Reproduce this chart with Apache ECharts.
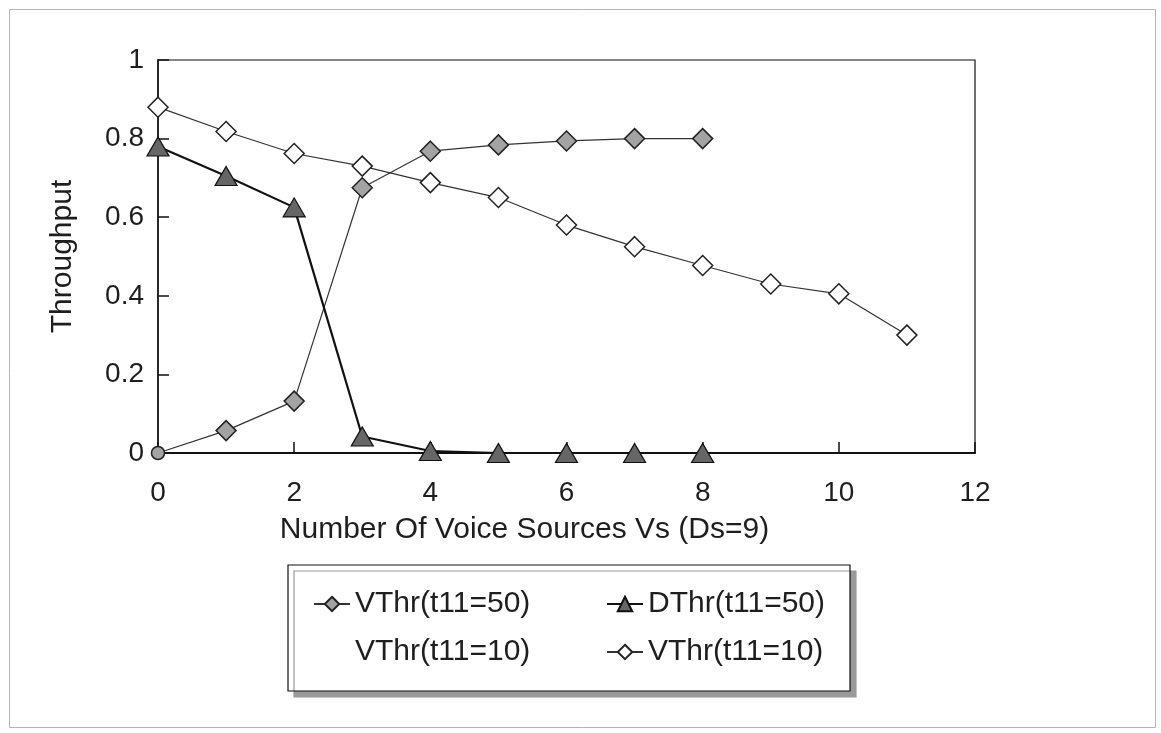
<!DOCTYPE html>
<html>
<head>
<meta charset="utf-8">
<script src="https://cdn.jsdelivr.net/npm/echarts@6/dist/echarts.min.js"></script>
<style>
html,body{margin:0;padding:0;background:#fff;}
#chart{width:1161px;height:733px;}
</style>
</head>
<body>
<div id="chart"></div>
<script>
// ---- data ----
const xVoice = [0,1,2,3,4,5,6,7,8,9,10,11];
const vthr50 = [0, 0.057, 0.132, 0.675, 0.768, 0.784, 0.794, 0.80, 0.80];
const dthr50 = [0.78, 0.705, 0.625, 0.042, 0.005, 0, 0, 0, 0];
const vthr10 = [0.88, 0.818, 0.762, 0.73, 0.688, 0.65, 0.58, 0.525, 0.477, 0.43, 0.405, 0.30];
const yTicks = [0, 0.2, 0.4, 0.6, 0.8, 1];
const xTicks = [0, 2, 4, 6, 8, 10, 12];
const names = ['VThr(t11=50)', 'DThr(t11=50)', 'VThr(t11=10) ', 'VThr(t11=10)'];
const xTitle = 'Number Of Voice Sources Vs (Ds=9)';
const yTitle = 'Throughput';

const FONT = 'Liberation Sans';
const TXT = '#1e1e1e';
const pair = arr => arr.map((v, i) => [xVoice[i], v]);

const chart = echarts.init(document.getElementById('chart'));
chart.setOption({
  animation: false,
  backgroundColor: '#fff',
  graphic: [{
    type: 'rect', left: 7, top: 7,
    shape: {width: 1146, height: 718},
    style: {fill: 'none', stroke: '#b5b5b5', lineWidth: 1}
  }],
  grid: {left: 158, right: 186, top: 60, bottom: 280, show: true,
         borderColor: '#111', borderWidth: 1.2, backgroundColor: 'transparent'},
  xAxis: {
    type: 'value', min: xTicks[0], max: xTicks[xTicks.length - 1], interval: 2,
    name: xTitle, nameLocation: 'middle', nameGap: 62,
    nameTextStyle: {fontFamily: FONT, fontSize: 30, color: TXT, padding: [0, 84, 0, 0]},
    axisLine: {show: true, onZero: false, lineStyle: {color: '#111', width: 2}},
    axisTick: {show: true, inside: true, length: 11, lineStyle: {color: '#111', width: 1.5}},
    axisLabel: {fontFamily: FONT, fontSize: 28, color: TXT, margin: 26},
    splitLine: {show: false}
  },
  yAxis: {
    type: 'value', min: yTicks[0], max: yTicks[yTicks.length - 1], interval: 0.2,
    name: yTitle, nameLocation: 'middle', nameGap: 80,
    nameTextStyle: {fontFamily: FONT, fontSize: 30, color: TXT},
    axisLine: {show: true, lineStyle: {color: '#111', width: 1.5}},
    axisTick: {show: true, inside: true, length: 11, lineStyle: {color: '#111', width: 1.5}},
    axisLabel: {fontFamily: FONT, fontSize: 28, color: TXT, margin: 14},
    splitLine: {show: false}
  },
  legend: {
    left: 288, top: 565, width: 530,
    orient: 'horizontal',
    padding: [20, 17, 20, 25],
    itemGap: 10, itemWidth: 36, itemHeight: 18,
    selectedMode: false,
    borderColor: '#111', borderWidth: 1.2,
    backgroundColor: '#fff',
    shadowColor: '#9a9a9a', shadowOffsetX: 6, shadowOffsetY: 6, shadowBlur: 0,
    textStyle: {fontFamily: FONT, fontSize: 30, color: TXT, lineHeight: 38},
    data: names.map((n, i) => ({name: n, textStyle: {width: i % 2 === 0 ? 241 : 185}}))
  },
  series: [
    {
      name: names[0], type: 'line', z: 3,
      data: pair(vthr50).map((p, i) => i === 0 ? {value: p, symbol: 'circle', symbolSize: 13} : p),
      symbol: 'diamond', symbolSize: [20, 20],
      lineStyle: {color: '#333', width: 1.2},
      itemStyle: {color: '#a3a3a3', borderColor: '#222', borderWidth: 1.5}
    },
    {
      name: names[1], type: 'line', z: 4,
      data: pair(dthr50),
      symbol: 'triangle', symbolSize: [22, 19],
      lineStyle: {color: '#111', width: 2.2},
      itemStyle: {color: '#666', borderColor: '#111', borderWidth: 1.2}
    },
    {
      name: names[2], type: 'line', data: [],
      symbol: 'none',
      lineStyle: {opacity: 0}, itemStyle: {opacity: 0}
    },
    {
      name: names[3], type: 'line', z: 2,
      data: pair(vthr10),
      symbol: 'diamond', symbolSize: [20, 20],
      lineStyle: {color: '#333', width: 1.2},
      itemStyle: {color: '#fff', borderColor: '#222', borderWidth: 1.5}
    }
  ]
});
</script>
</body>
</html>
